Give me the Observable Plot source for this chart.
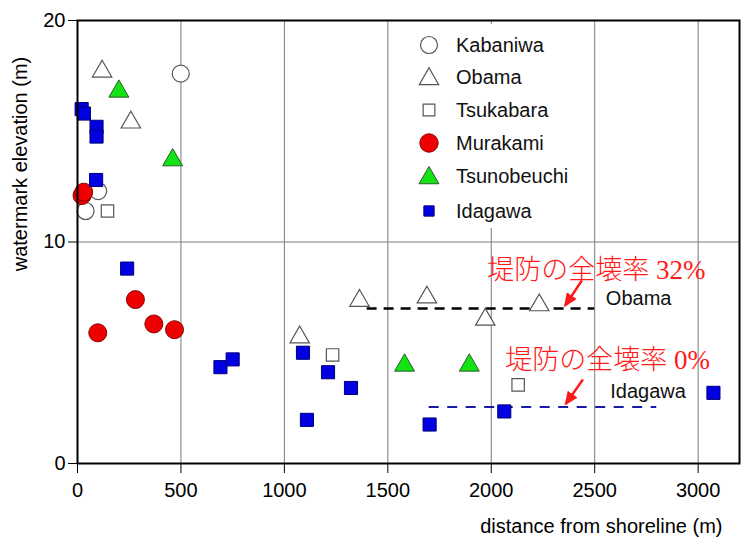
<!DOCTYPE html>
<html><head><meta charset="utf-8">
<script src="https://cdn.jsdelivr.net/npm/d3@7"></script>
<script src="https://cdn.jsdelivr.net/npm/@observablehq/plot@0.6"></script>
<style>
body{margin:0;background:#fff;}
#wrap{position:relative;width:741px;height:540px;}
#legend{position:absolute;left:0;top:0;pointer-events:none;}
</style></head><body><div id="wrap"></div>
<script>
// ---- data (distance from shoreline m, watermark elevation m) ----
const seriesNames = ["Kabaniwa", "Obama", "Tsukabara", "Murakami", "Tsunobeuchi", "Idagawa"];
const kabaniwaX = [39, 100, 499];
const kabaniwaY = [11.4, 12.3, 17.6];
const obamaX = [119, 258, 1074, 1363, 1689, 1971, 2232];
const obamaY = [17.7, 15.4, 5.7, 7.35, 7.5, 6.5, 7.15];
const tsukabaraX = [145, 1233, 2130];
const tsukabaraY = [11.4, 4.9, 3.55];
const murakamiX = [22, 30, 98, 280, 369, 469];
const murakamiY = [12.1, 12.25, 5.9, 7.4, 6.3, 6.04];
const tsunobeuchiX = [200, 460, 1581, 1894];
const tsunobeuchiY = [16.8, 13.7, 4.43, 4.43];
const idagawaX = [20, 31, 92, 92, 90, 240, 691, 750, 1090, 1109, 1211, 1322, 1702, 2063, 3074];
const idagawaY = [16.0, 15.8, 15.2, 14.76, 12.8, 8.8, 4.35, 4.7, 5.0, 1.97, 4.12, 3.41, 1.76, 2.35, 3.19];

// dashed average levels
const levelNames = ["Obama", "Idagawa"];
const levelX1 = [1400, 1700];
const levelX2 = [2500, 2800];
const levelY = [7.0, 2.55];
const levelLabelX = [2554, 2575];
const levelLabelY = [7.45, 3.25];

// annotations
const noteTexts = ["堤防の全壊率 32%", "堤防の全壊率 0%"];
const noteX = [1981, 2068];
const noteY = [8.71, 4.65];
const arrowX1 = [2438, 2443];
const arrowY1 = [8.26, 3.79];
const arrowX2 = [2357, 2360];
const arrowY2 = [7.13, 2.69];

const xTicks = [0, 500, 1000, 1500, 2000, 2500, 3000];
const yTicks = [0, 10, 20];
const xLabel = "distance from shoreline (m)";
const yLabel = "watermark elevation (m)";

// ---- styles ----
const styles = {
  Kabaniwa:    {symbol: "circle",   r: 8.5, fill: "white",   stroke: "#555", strokeWidth: 1.2},
  Obama:       {symbol: "triangle", r: 7.2, fill: "white",   stroke: "#555", strokeWidth: 1.2},
  Tsukabara:   {symbol: "square",   r: 7.0, fill: "white",   stroke: "#555", strokeWidth: 1.2},
  Murakami:    {symbol: "circle",   r: 9.0, fill: "#ee0000", stroke: "#8a0000", strokeWidth: 1},
  Tsunobeuchi: {symbol: "triangle", r: 7.4, fill: "#13e313", stroke: "#2c5a2c", strokeWidth: 1},
  Idagawa:     {symbol: "square",   r: 7.4, fill: "#0000e0", stroke: "#00007a", strokeWidth: 1}
};
const legendR = {Kabaniwa: 8.5, Obama: 7.2, Tsukabara: 6.6, Murakami: 9.2, Tsunobeuchi: 7.4, Idagawa: 5.8};

const seriesData = {
  Kabaniwa: [kabaniwaX, kabaniwaY], Obama: [obamaX, obamaY], Tsukabara: [tsukabaraX, tsukabaraY],
  Murakami: [murakamiX, murakamiY], Tsunobeuchi: [tsunobeuchiX, tsunobeuchiY], Idagawa: [idagawaX, idagawaY]
};
const toRows = (xs, ys) => xs.map((x, i) => ({x, y: ys[i]}));

const levels = levelNames.map((n, i) => ({name: n, x1: levelX1[i], x2: levelX2[i], y: levelY[i], lx: levelLabelX[i], ly: levelLabelY[i]}));
const notes = noteTexts.map((t, i) => ({text: t, x: noteX[i], y: noteY[i]}));
const arrows = arrowX1.map((x, i) => ({x1: x, y1: arrowY1[i], x2: arrowX2[i], y2: arrowY2[i]}));

const FONT = "'Liberation Sans', Arial, Helvetica, sans-serif";
const FS = 20;
const W = 741, H = 540;

const chart = Plot.plot({
  width: W, height: H,
  marginLeft: 77, marginTop: 20, marginRight: 2, marginBottom: 77,
  style: {fontFamily: FONT, fontSize: FS + "px", background: "white", overflow: "visible"},
  x: {domain: [0, 3200]},
  y: {domain: [0, 20]},
  marks: [
    Plot.gridX(xTicks, {stroke: "#7a7a7a", strokeOpacity: 1, strokeWidth: 1}),
    Plot.gridY(yTicks, {stroke: "#7a7a7a", strokeOpacity: 1, strokeWidth: 1}),
    Plot.axisX(xTicks, {tickSize: 10, tickPadding: 9, fontSize: FS, label: null, tickFormat: d => String(d)}),
    Plot.axisY(yTicks, {tickSize: 9, tickPadding: 3, fontSize: FS, label: null, tickFormat: d => String(d)}),
    Plot.text([xLabel], {text: d => d, frameAnchor: "bottom-right", textAnchor: "end", lineAnchor: "middle", dx: -17, dy: 63, fontSize: FS}),
    Plot.text([yLabel], {text: d => d, frameAnchor: "left", rotate: -90, textAnchor: "middle", lineAnchor: "middle", dx: -57, dy: -78, fontSize: FS}),
    Plot.ruleY(levels.filter(d => d.name === "Obama"), {y: "y", x1: "x1", x2: "x2", stroke: "black", strokeWidth: 2.5, strokeDasharray: "10,7"}),
    Plot.ruleY(levels.filter(d => d.name === "Idagawa"), {y: "y", x1: "x1", x2: "x2", stroke: "#1a1aa8", strokeWidth: 2, strokeDasharray: "10,8.5"}),
    ...seriesNames.map(n => {
      const s = styles[n];
      const [xs, ys] = seriesData[n];
      return Plot.dot(toRows(xs, ys), {x: "x", y: "y", symbol: s.symbol, r: s.r, fill: s.fill, stroke: s.stroke, strokeWidth: s.strokeWidth});
    }),
    Plot.text(levels, {x: "lx", y: "ly", text: "name", textAnchor: "start", fontSize: FS, fill: "#111"}),
    Plot.text(notes, {x: "x", y: "y", text: "text", textAnchor: "start", fontSize: 27, fill: "#ff1a1a",
      fontFamily: "'Liberation Serif', 'Noto Sans CJK JP', serif", fontWeight: 300}),
    Plot.link(arrows, {x1: "x1", y1: "y1", x2: "x2", y2: "y2", stroke: "#ff1a1a", strokeWidth: 2.5}),
    Plot.frame({stroke: "black", strokeWidth: 2})
  ]
});

// filled arrowheads
const svgNS = "http://www.w3.org/2000/svg";
const defs = document.createElementNS(svgNS, "defs");
const marker = document.createElementNS(svgNS, "marker");
marker.setAttribute("id", "redhead");
marker.setAttribute("markerUnits", "userSpaceOnUse");
marker.setAttribute("markerWidth", "14");
marker.setAttribute("markerHeight", "12");
marker.setAttribute("refX", "12");
marker.setAttribute("refY", "6");
marker.setAttribute("orient", "auto");
marker.setAttribute("viewBox", "0 0 14 12");
const mp = document.createElementNS(svgNS, "path");
mp.setAttribute("d", "M0,0L14,6L0,12Z");
mp.setAttribute("fill", "#ff1a1a");
marker.appendChild(mp);
defs.appendChild(marker);
chart.insertBefore(defs, chart.firstChild);
chart.querySelectorAll('g[aria-label="link"] path').forEach(p => p.setAttribute("marker-end", "url(#redhead)"));

const wrap = document.getElementById("wrap");
wrap.appendChild(chart);

// legend overlay
const lg = d3.select(wrap).append("svg").attr("id", "legend").attr("width", W).attr("height", H);
lg.append("rect").attr("x", 402).attr("y", 24).attr("width", 186).attr("height", 204).attr("fill", "white");
const legendRowY = [45, 77, 110, 143, 176, 211];
const symMap = {circle: d3.symbolCircle, triangle: d3.symbolTriangle, square: d3.symbolSquare};
seriesNames.forEach((n, i) => {
  const s = styles[n];
  const r = legendR[n];
  lg.append("path")
    .attr("d", d3.symbol(symMap[s.symbol], Math.PI * r * r)())
    .attr("transform", `translate(429,${legendRowY[i] + (s.symbol === "triangle" ? 2 : 0)})`)
    .attr("fill", s.fill).attr("stroke", s.stroke).attr("stroke-width", s.strokeWidth);
  lg.append("text").attr("x", 456).attr("y", legendRowY[i]).attr("dy", "0.35em")
    .attr("font-family", FONT).attr("font-size", FS).attr("fill", "#111").text(n);
});
</script></body></html>
